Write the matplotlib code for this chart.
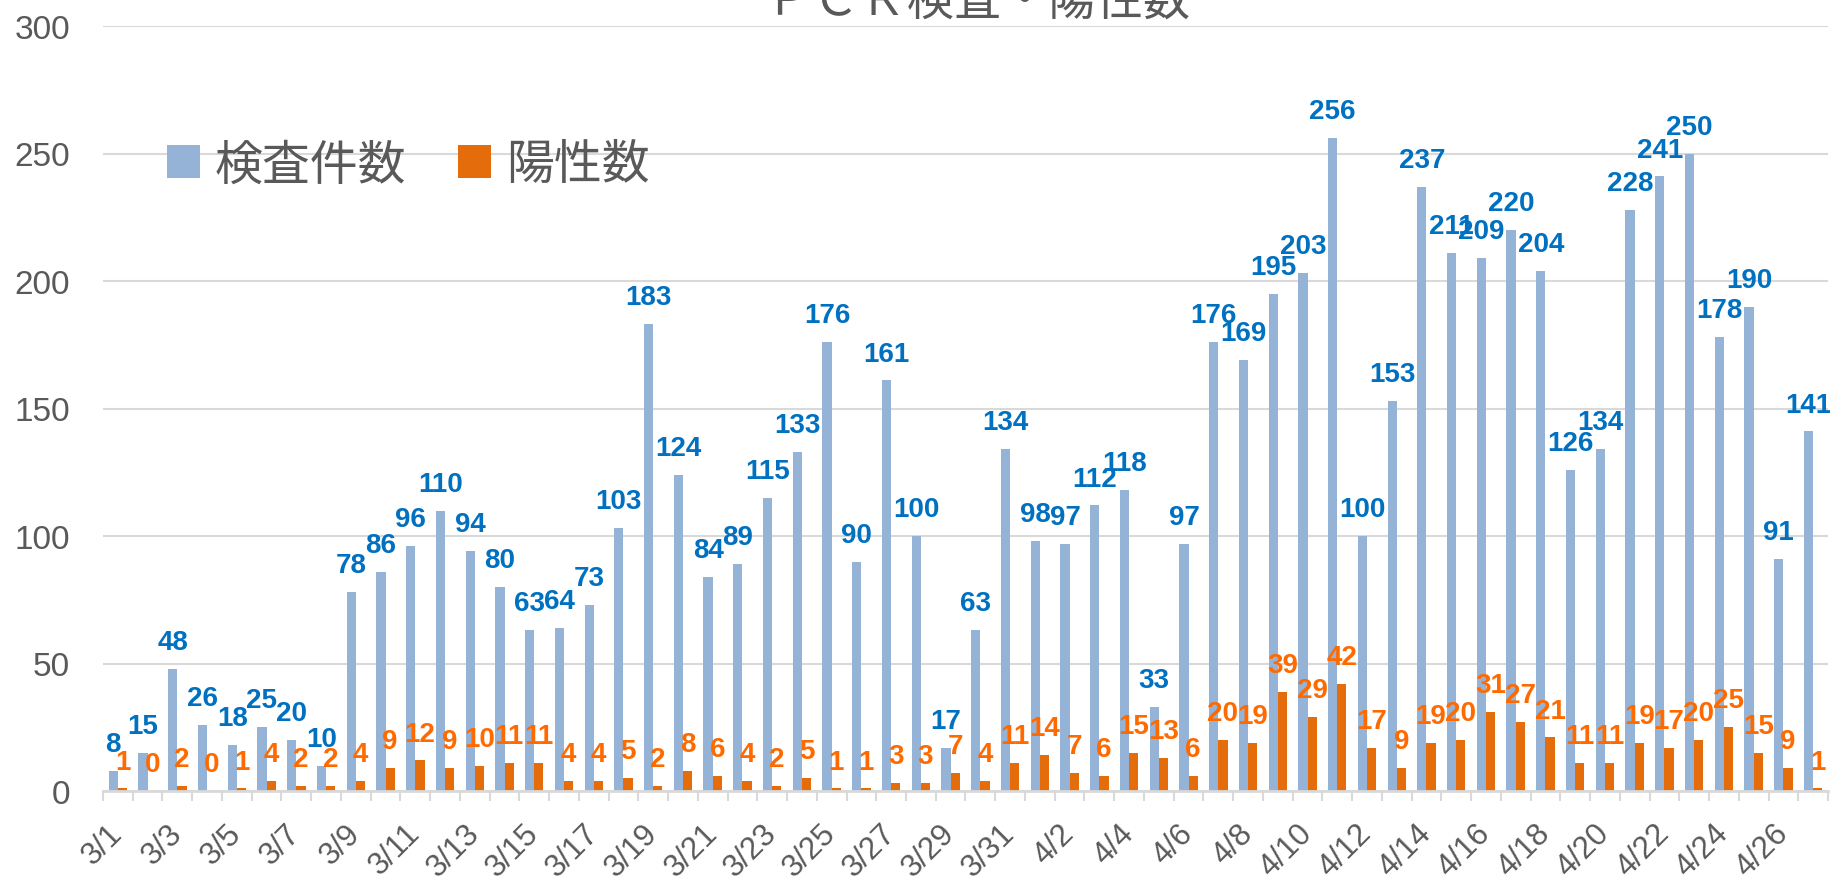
import matplotlib
matplotlib.use('Agg')
import matplotlib.pyplot as plt
import numpy as np

dates = ["3/1", "3/2", "3/3", "3/4", "3/5", "3/6", "3/7", "3/8", "3/9", "3/10",
         "3/11", "3/12", "3/13", "3/14", "3/15", "3/16", "3/17", "3/18", "3/19", "3/20",
         "3/21", "3/22", "3/23", "3/24", "3/25", "3/26", "3/27", "3/28", "3/29", "3/30",
         "3/31", "4/1", "4/2", "4/3", "4/4", "4/5", "4/6", "4/7", "4/8", "4/9",
         "4/10", "4/11", "4/12", "4/13", "4/14", "4/15", "4/16", "4/17", "4/18", "4/19",
         "4/20", "4/21", "4/22", "4/23", "4/24", "4/25", "4/26", "4/27"]
tests = [8, 15, 48, 26, 18, 25, 20, 10, 78, 86,
         96, 110, 94, 80, 63, 64, 73, 103, 183, 124,
         84, 89, 115, 133, 176, 90, 161, 100, 17, 63,
         134, 98, 97, 112, 118, 33, 97, 176, 169, 195,
         203, 256, 100, 153, 237, 211, 209, 220, 204, 126,
         134, 228, 241, 250, 178, 190, 91, 141]
positives = [1, 0, 2, 0, 1, 4, 2, 2, 4, 9,
             12, 9, 10, 11, 11, 4, 4, 5, 2, 8,
             6, 4, 2, 5, 1, 1, 3, 3, 7, 4,
             11, 14, 7, 6, 15, 13, 6, 20, 19, 39,
             29, 42, 17, 9, 19, 20, 31, 27, 21, 11,
             11, 19, 17, 20, 25, 15, 9, 1]
series_names = ["検査件数", "陽性数"]
title = "ＰＣＲ検査・陽性数"
yticks = [0, 50, 100, 150, 200, 250, 300]

W, H = 1831, 878
fig = plt.figure(figsize=(W / 100, H / 100), dpi=100)
ax = fig.add_axes([103 / W, (H - 792) / H, (1828 - 103) / W, (792 - 27) / H])

x = np.arange(len(dates))
bw = 0.31
b1 = ax.bar(x - bw / 2, tests, bw, color='#95B3D7', label=series_names[0], zorder=2)
b2 = ax.bar(x + bw / 2, positives, bw, color='#E46C0A', label=series_names[1], zorder=2)

ax.set_xlim(-0.5, len(dates) - 0.5)
ax.set_ylim(0, 300)
ax.set_yticks(yticks)
ax.yaxis.grid(True, color='#D9D9D9', linewidth=1.5, zorder=0)
ax.set_axisbelow(True)
for s in ['left', 'right', 'top']:
    ax.spines[s].set_visible(False)
ax.spines['bottom'].set_color('#D9D9D9')
ax.spines['bottom'].set_linewidth(2)
ax.spines['bottom'].set_zorder(3)

num_font = 'Liberation Sans'
ax.tick_params(axis='y', length=0, pad=23.8, labelsize=24, labelcolor='#595959')
for lab in ax.get_yticklabels():
    lab.set_family(num_font)

ax.set_xticks(x[::2])
ax.set_xticklabels(dates[::2])
ax.set_xticks(np.arange(-0.5, len(dates), 1.0), minor=True)
ax.tick_params(axis='x', which='major', length=0, pad=27, labelsize=22.5, labelcolor='#595959')
ax.tick_params(axis='x', which='minor', length=7.2, width=1.5, color='#D9D9D9')
for lab in ax.get_xticklabels():
    lab.set_family(num_font)
    lab.set_rotation(45)
    lab.set_ha('right')
    lab.set_va('center')
    lab.set_rotation_mode('anchor')

ax.bar_label(b1, labels=[str(v) for v in tests], padding=10, color='#0070C0',
             fontsize=20, fontweight='bold', family=num_font, zorder=4)
ax.bar_label(b2, labels=[str(v) for v in positives], padding=10, color='#FF6A00',
             fontsize=20, fontweight='bold', family=num_font, zorder=4)

fig.text(978 / W, (H - 15) / H, title, ha='center', va='baseline', fontsize=34,
         color='#595959', family=['Noto Sans CJK JP', 'DejaVu Sans'])

ax.legend(handles=[b1, b2], loc='center left', bbox_to_anchor=(167 / W, (H - 165.5) / H),
          bbox_transform=fig.transFigure, ncol=2, frameon=False,
          prop={'family': ['Noto Sans CJK JP', 'DejaVu Sans'], 'size': 34.5},
          handlelength=0.69, handleheight=0.69, handletextpad=0.31, columnspacing=1.08,
          borderpad=0, borderaxespad=0, labelcolor='#595959')

fig.savefig('out.png', dpi=100)
